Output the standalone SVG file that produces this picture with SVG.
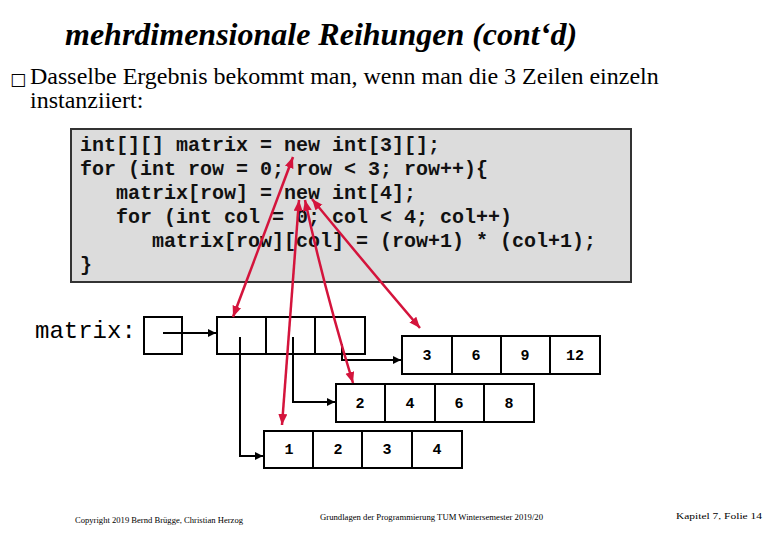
<svg xmlns="http://www.w3.org/2000/svg" width="780" height="540" viewBox="0 0 780 540">
<style>
.title{font-family:"Liberation Serif",serif;font-style:italic;font-weight:bold;font-size:32px;fill:#000}
.body{font-family:"Liberation Serif","DejaVu Sans",serif;font-size:24px;fill:#000}
.bul{font-family:"DejaVu Sans",sans-serif;font-size:17px;fill:#000}
.code{font-family:"Liberation Mono",monospace;font-weight:bold;font-size:20px;fill:#111}
.lbl{font-family:"Liberation Mono",monospace;font-size:24px;fill:#000}
.num{font-family:"Liberation Mono",monospace;font-weight:bold;font-size:15px;fill:#000;text-anchor:middle}
.foot{font-family:"Liberation Serif",serif;font-size:8.6px;fill:#000}
.cell{fill:#fff;stroke:#000;stroke-width:2}
.blk{fill:none;stroke:#000;stroke-width:2}
.red{fill:none;stroke:#d4143c;stroke-width:2.5}
</style>
<defs>
<marker id="ah" markerUnits="userSpaceOnUse" markerWidth="10" markerHeight="10" refX="8" refY="4" orient="auto"><path d="M0,0 L8,4 L0,8 z" fill="#000"/></marker>
<marker id="rh" markerUnits="userSpaceOnUse" markerWidth="12" markerHeight="10" refX="11" refY="4.5" orient="auto-start-reverse"><path d="M0,0 L11,4.5 L0,9 z" fill="#d4143c"/></marker>
</defs>
<text class="title" x="65" y="45">mehrdimensionale Reihungen (cont‘d)</text>
<text class="bul" x="10" y="85">□</text>
<text class="body" x="30" y="84">Dasselbe Ergebnis bekommt man, wenn man die 3 Zeilen einzeln</text>
<text class="body" x="30" y="108">instanziiert:</text>
<g id="code">
<rect x="71" y="129" width="560" height="153" fill="#dcdcdc" stroke="#333" stroke-width="2"/>
<text class="code" x="80" y="151" xml:space="preserve">int[][] matrix = new int[3][];</text>
<text class="code" x="80" y="175" xml:space="preserve">for (int row = 0; row &lt; 3; row++){</text>
<text class="code" x="80" y="199" xml:space="preserve">   matrix[row] = new int[4];</text>
<text class="code" x="80" y="223" xml:space="preserve">   for (int col = 0; col &lt; 4; col++)</text>
<text class="code" x="80" y="247" xml:space="preserve">      matrix[row][col] = (row+1) * (col+1);</text>
<text class="code" x="80" y="271">}</text>
</g>
<g id="matrix">
<text class="lbl" x="35" y="338">matrix:</text>
<rect class="cell" x="144" y="317" width="38" height="37"/>
</g>
<g id="outer">
<rect class="cell" x="217" y="317" width="49" height="37"/>
<rect class="cell" x="266" y="317" width="49" height="37"/>
<rect class="cell" x="315" y="317" width="50" height="37"/>
</g>
<g id="row2">
<rect class="cell" x="402" y="336" width="50" height="38"/>
<rect class="cell" x="452" y="336" width="49" height="38"/>
<rect class="cell" x="501" y="336" width="49" height="38"/>
<rect class="cell" x="550" y="336" width="50" height="38"/>
<text class="num" x="427" y="360">3</text>
<text class="num" x="476" y="360">6</text>
<text class="num" x="525" y="360">9</text>
<text class="num" x="575" y="360">12</text>
</g>
<g id="row1">
<rect class="cell" x="336" y="384" width="49" height="38"/>
<rect class="cell" x="385" y="384" width="50" height="38"/>
<rect class="cell" x="435" y="384" width="49" height="38"/>
<rect class="cell" x="484" y="384" width="50" height="38"/>
<text class="num" x="360" y="408">2</text>
<text class="num" x="410" y="408">4</text>
<text class="num" x="459" y="408">6</text>
<text class="num" x="509" y="408">8</text>
</g>
<g id="row0">
<rect class="cell" x="264" y="431" width="49" height="37"/>
<rect class="cell" x="313" y="431" width="49" height="37"/>
<rect class="cell" x="362" y="431" width="50" height="37"/>
<rect class="cell" x="412" y="431" width="50" height="37"/>
<text class="num" x="289" y="454">1</text>
<text class="num" x="338" y="454">2</text>
<text class="num" x="387" y="454">3</text>
<text class="num" x="437" y="454">4</text>
</g>
<g id="connectors">
<path class="blk" d="M163,333 L216,333" marker-end="url(#ah)"/>
<path class="blk" d="M240,337 L240,456 L263,456" marker-end="url(#ah)"/>
<path class="blk" d="M293,337 L293,402 L335,402" marker-end="url(#ah)"/>
<path class="blk" d="M342,344 L342,360 L401,360" marker-end="url(#ah)"/>
<path class="red" d="M293,157 L233,317" marker-start="url(#rh)" marker-end="url(#rh)"/>
<path class="red" d="M299,200 L282,425" marker-start="url(#rh)" marker-end="url(#rh)"/>
<path class="red" d="M305,200 Q324,288 353,383" marker-start="url(#rh)" marker-end="url(#rh)"/>
<path class="red" d="M312,199 Q372,272 420,328" marker-start="url(#rh)" marker-end="url(#rh)"/>
</g>
<text class="foot" x="75" y="523" textLength="168" lengthAdjust="spacingAndGlyphs">Copyright 2019 Bernd Brügge, Christian Herzog</text>
<text class="foot" x="320" y="520" textLength="223" lengthAdjust="spacingAndGlyphs">Grundlagen der Programmierung  TUM Wintersemester 2019/20</text>
<text class="foot" x="676" y="519" textLength="86" lengthAdjust="spacingAndGlyphs">Kapitel 7, Folie 14</text>
</svg>
